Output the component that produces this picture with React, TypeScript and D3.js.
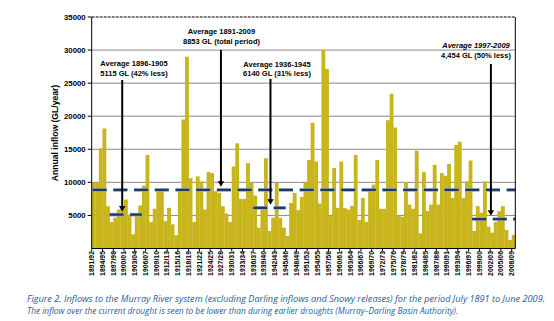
import React from 'react';
import * as d3 from 'd3';

// Categories: financial years 1891/92 .. 2008/09
const startYears: number[] = d3.range(1891, 2009);
const seasons: string[] = startYears.map(
  (y) => `${y}/${String((y + 1) % 100).padStart(2, '0')}`
);

// Annual inflow (GL/year)
const inflow: number[] = [
  10000, 9900, 15150, 18150, 6400, 4000, 4650, 5900, 6000, 7400,
  5150, 2150, 5150, 6500, 9500, 14150, 4000, 6000, 8650, 8650,
  4150, 6150, 3650, 2000, 9000, 19500, 29000, 10650, 4000, 10900,
  10150, 5900, 11550, 11400, 8650, 8400, 6400, 5300, 4000, 12400,
  15900, 7500, 7500, 12900, 9900, 8000, 3150, 6400, 13650, 2650,
  4650, 9900, 4650, 3150, 1900, 6900, 8400, 5800, 7800, 10000,
  13400, 19000, 13150, 6800, 30000, 27150, 4900, 12150, 6150, 13150,
  6100, 5900, 6450, 14150, 4300, 7650, 4000, 9000, 9650, 13400,
  6000, 6000, 19400, 23400, 18300, 4900, 4800, 10000, 6650, 6000,
  14800, 2300, 11550, 5650, 6650, 12650, 6650, 11400, 11000, 12800,
  7650, 15650, 16150, 7650, 10150, 13300, 2650, 6400, 5400, 10150,
  3300, 2400, 4000, 5650, 6400, 2800, 1300, 2050,
];

const yTicks: number[] = [5000, 10000, 15000, 20000, 25000, 30000, 35000];
const yTickLabels: string[] = ['5000', '10000', '15000', '20000', '25000', '30000', '35000'];
const labelStep = 3;

const overallAverage = 8853;
const periodFrom: string[] = ['1896/97', '1936/37', '1997/98'];
const periodTo: string[] = ['1904/05', '1944/45', '2008/09'];
const periodAverage: number[] = [5115, 6140, 4454];

const annLine1: string[] = ['Average 1896-1905', 'Average 1891-2009', 'Average 1936-1945', 'Average 1997-2009'];
const annLine2: string[] = ['5115 GL (42% less)', '8853 GL (total period)', '6140 GL (31% less)', '4,454 GL (50% less)'];
const annValue: number[] = [5115, 8853, 6140, 4454];

const caption1 =
  'Figure 2. Inflows to the Murray River system (excluding Darling inflows and Snowy releases) for the period July 1891 to June 2009.';
const caption2 =
  'The inflow over the current drought is seen to be lower than during earlier droughts (Murray\u2013Darling Basin Authority).';

export default function App() {
  const W = 554;
  const H = 321;
  const left = 91.7;
  const right = 515.3;
  const top = 17;
  const bottom = 248.5;

  const x = d3.scaleBand<string>().domain(seasons).range([left, right]).padding(0);
  const bw = x.bandwidth();
  const y = d3.scaleLinear().domain([0, 35000]).range([bottom, top]);

  const bar = '#c8b51c';
  const font = "'Liberation Sans', Arial, sans-serif";

  // annotation layout (positions in category units / pixels)
  const annArrowPos = [8.5, 36.0, 49.8, 111.2];
  const annTextX = [134, 221.5, 277, 476];
  const annBase1 = [65.5, 33.8, 66.5, 48];
  const annBase2 = [76, 44, 76, 57.5];
  const annArrowTop = [80, 50, 79, 64];
  const annItalic = [false, false, false, true];

  const avgLine = (x1: number, x2: number, yy: number, key: string, dash: string) => (
    <g key={key}>
      <line x1={x1} x2={x2} y1={yy} y2={yy} stroke="#8ea6c6" strokeWidth={3.6} strokeDasharray={dash} />
      <line x1={x1} x2={x2} y1={yy} y2={yy} stroke="#1f3a63" strokeWidth={2.2} strokeDasharray={dash} />
    </g>
  );

  return (
    <svg width={W} height={H} style={{ position: 'absolute', left: 0, top: 0, background: '#fff' }}>
      <rect x={0} y={0} width={W} height={H} fill="#fff" />
      {/* gridlines */}
      {yTicks.filter((t) => t < 35000).map((t) => (
        <line key={'g' + t} x1={left} x2={right} y1={y(t)} y2={y(t)} stroke="#8a8a8a" strokeWidth={1} />
      ))}
      {/* top dotted border */}
      <line x1={left} x2={right} y1={y(35000)} y2={y(35000)} stroke="#000" strokeWidth={1} strokeDasharray="3,1" />
      {/* bars */}
      {inflow.map((v, i) => (
        <rect
          key={'b' + i}
          x={x(seasons[i])!}
          y={y(v)}
          width={bw + 0.25}
          height={y(0) - y(v)}
          fill={bar}
        />
      ))}
      {/* overall average */}
      {avgLine(left + 1, right, y(overallAverage), 'oa', '14,6.7')}
      {/* period averages */}
      {periodAverage.map((v, i) =>
        avgLine(x(periodFrom[i])!, x(periodTo[i])! + bw, y(v), 'pa' + i, '14,6.5')
      )}
      {/* axes */}
      <line x1={left} x2={left} y1={top} y2={bottom} stroke="#000" strokeWidth={1} />
      <line x1={right} x2={right} y1={top} y2={bottom} stroke="#000" strokeWidth={1} />
      <line x1={left} x2={right} y1={bottom} y2={bottom} stroke="#000" strokeWidth={1.2} />
      {yTicks.map((t, i) => (
        <g key={'yt' + t}>
          <line x1={left - 4} x2={left} y1={y(t)} y2={y(t)} stroke="#000" strokeWidth={1} />
          <text
            x={left - 6}
            y={y(t)}
            dy="0.35em"
            textAnchor="end"
            fontFamily={font}
            fontWeight="bold"
            fontSize={7.8}
            fill="#000"
          >
            {yTickLabels[i]}
          </text>
        </g>
      ))}
      {/* x ticks and labels */}
      {seasons.map((s, i) =>
        i % labelStep === 0 ? (
          <g key={'xt' + i}>
            <line x1={x(s)!} x2={x(s)!} y1={bottom} y2={bottom + 3} stroke="#000" strokeWidth={1} />
            <text
              transform={`translate(${x(s)! + 2.4},${bottom + 2.5}) rotate(-90)`}
              textAnchor="end"
              fontFamily={font}
              fontWeight="bold"
              fontSize={6.9}
              fill="#000"
            >
              {s}
            </text>
          </g>
        ) : null
      )}
      {/* y title */}
      <text
        transform={`translate(57.5,133) rotate(-90)`}
        textAnchor="middle"
        fontFamily={font}
        fontWeight="bold"
        fontSize={8.6}
        fill="#000"
      >
        Annual inflow (GL/year)
      </text>
      {/* annotations */}
      {annValue.map((v, i) => {
        const ax = left + bw * annArrowPos[i];
        const tip = y(v) - 3.2;
        return (
          <g key={'an' + i}>
            <text
              x={annTextX[i]}
              y={annBase1[i]}
              textAnchor="middle"
              fontFamily={font}
              fontWeight="bold"
              fontStyle={annItalic[i] ? 'italic' : 'normal'}
              fontSize={7.5}
              fill="#000"
            >
              {annLine1[i]}
            </text>
            <text
              x={annTextX[i]}
              y={annBase2[i]}
              textAnchor="middle"
              fontFamily={font}
              fontWeight="bold"
              fontSize={7.5}
              fill="#000"
            >
              {annLine2[i]}
            </text>
            <line x1={ax} x2={ax} y1={annArrowTop[i]} y2={tip - 4} stroke="#000" strokeWidth={2} />
            <path d={`M${ax - 3.2},${tip - 5.5}L${ax + 3.2},${tip - 5.5}L${ax},${tip}Z`} fill="#000" />
          </g>
        );
      })}
      {/* caption */}
      <text
        x={27}
        y={302}
        fontFamily="'Liberation Sans Narrow', 'Open Sans', sans-serif"
        fontStyle="italic"
        fontSize={9}
        fill="#1f5c9e"
        textLength={518}
        lengthAdjust="spacingAndGlyphs"
      >
        {caption1}
      </text>
      <text
        x={27}
        y={314}
        fontFamily="'Liberation Sans Narrow', 'Open Sans', sans-serif"
        fontStyle="italic"
        fontSize={9}
        fill="#1f5c9e"
        textLength={431}
        lengthAdjust="spacingAndGlyphs"
      >
        {caption2}
      </text>
    </svg>
  );
}
